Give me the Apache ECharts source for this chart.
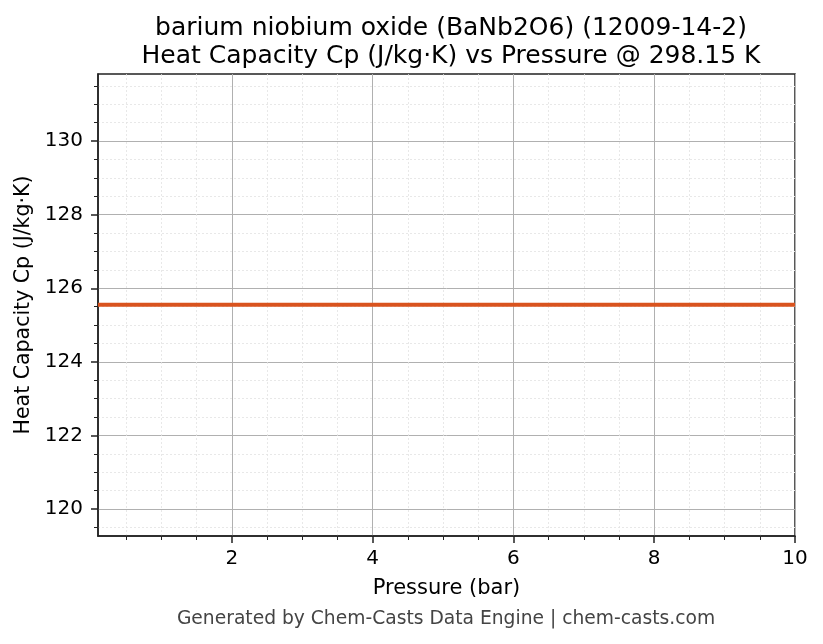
<!DOCTYPE html>
<html>
<head>
<meta charset="utf-8">
<script src="https://cdn.jsdelivr.net/npm/echarts@6/dist/echarts.min.js"></script>
<style>
  html, body { margin: 0; padding: 0; background: #fff; }
  #chart { width: 823px; height: 644px; }
</style>
</head>
<body>
<div id="chart"></div>
<script>
// data
var pressures = [0.1, 1, 2, 3, 4, 5, 6, 7, 8, 9, 10];
var cpValues = [125.55, 125.55, 125.55, 125.55, 125.55, 125.55, 125.55, 125.55, 125.55, 125.55, 125.55];

// axis ticks
var xMajorTicks = [2, 4, 6, 8, 10];
var xMinorTicks = [0.5, 1, 1.5, 2.5, 3, 3.5, 4.5, 5, 5.5, 6.5, 7, 7.5, 8.5, 9, 9.5];
var yMajorTicks = [120, 122, 124, 126, 128, 130];
var yMinorTicks = [119.5, 120.5, 121, 121.5, 122.5, 123, 123.5, 124.5, 125, 125.5,
                   126.5, 127, 127.5, 128.5, 129, 129.5, 130.5, 131, 131.5];

var FONT = 'DejaVu Sans';
var xRange = [0.1, 10];
var yRange = [119.27, 131.82];

var chart = echarts.init(document.getElementById('chart'));

function minorAxis(ticks, range, pos) {
    return {
        type: 'value', min: range[0], max: range[1], position: pos,
        axisLine: { show: false },
        axisTick: { show: true, customValues: ticks, inside: false, length: 4,
                    lineStyle: { color: '#222', width: 1 } },
        axisLabel: { show: false, customValues: ticks },
        splitLine: { show: true, lineStyle: { color: '#e2e2e2', width: 0.8, type: [2, 2] } }
    };
}

var option = {
    backgroundColor: '#fff',
    animation: false,
    title: {
        text: 'barium niobium oxide (BaNb2O6) (12009-14-2)\nHeat Capacity Cp (J/kg·K) vs Pressure @ 298.15 K',
        left: 446, top: 9, textAlign: 'center',
        textStyle: { fontFamily: FONT, fontSize: 25, fontWeight: 'normal', color: '#000', lineHeight: 28 }
    },
    graphic: [{
        type: 'text', x: 446, y: 619,
        style: { text: 'Generated by Chem-Casts Data Engine | chem-casts.com',
                 font: '18.7px "DejaVu Sans"', fill: '#444',
                 textAlign: 'center', textVerticalAlign: 'middle' }
    }],
    grid: { left: 98, right: 28, top: 74, bottom: 108, show: true,
            borderColor: '#222', borderWidth: 1.5, backgroundColor: 'transparent' },
    xAxis: [
        minorAxis(xMinorTicks, xRange, 'bottom'),
        {
            type: 'value', min: xRange[0], max: xRange[1], position: 'bottom',
            name: 'Pressure (bar)', nameLocation: 'middle', nameGap: 42,
            nameTextStyle: { fontFamily: FONT, fontSize: 21, color: '#000' },
            axisLine: { show: true, onZero: false, lineStyle: { color: '#222', width: 1.5 } },
            axisTick: { show: true, customValues: xMajorTicks, length: 7,
                        lineStyle: { color: '#222', width: 1.5 } },
            axisLabel: { customValues: xMajorTicks, margin: 13,
                         fontFamily: FONT, fontSize: 20, color: '#000' },
            splitLine: { show: true, lineStyle: { color: '#b0b0b0', width: 1 } }
        }
    ],
    yAxis: [
        minorAxis(yMinorTicks, yRange, 'left'),
        {
            type: 'value', min: yRange[0], max: yRange[1], position: 'left',
            name: 'Heat Capacity Cp (J/kg·K)', nameLocation: 'middle', nameGap: 64, nameRotate: 90,
            nameTextStyle: { fontFamily: FONT, fontSize: 20.5, color: '#000' },
            axisLine: { show: true, onZero: false, lineStyle: { color: '#222', width: 1.5 } },
            axisTick: { show: true, customValues: yMajorTicks, length: 7,
                        lineStyle: { color: '#222', width: 1.5 } },
            axisLabel: { customValues: yMajorTicks, margin: 15,
                         fontFamily: FONT, fontSize: 20, color: '#000' },
            splitLine: { show: true, lineStyle: { color: '#b0b0b0', width: 1 } }
        }
    ],
    series: [{
        type: 'line',
        xAxisIndex: 1, yAxisIndex: 1,
        data: pressures.map(function (p, i) { return [p, cpValues[i]]; }),
        showSymbol: false,
        lineStyle: { color: '#d9531e', width: 4 },
        z: 5
    }]
};

chart.setOption(option);
</script>
</body>
</html>
